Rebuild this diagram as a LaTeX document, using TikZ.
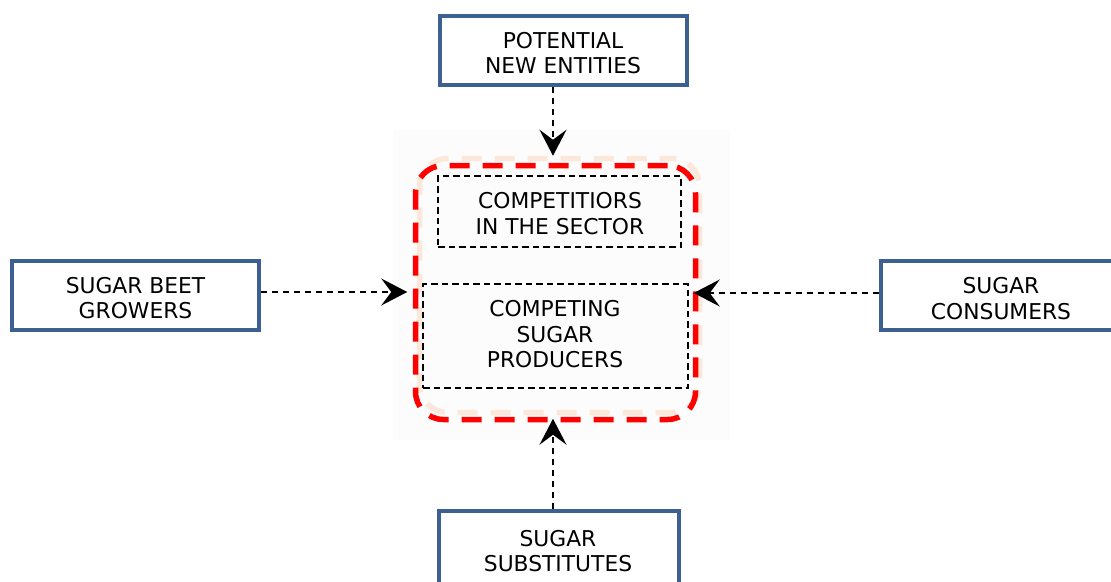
\documentclass[tikz,border=0pt]{standalone}
\usepackage{fontspec}
\setmainfont{DejaVu Sans}
\usetikzlibrary{arrows.meta}
\definecolor{boxblue}{RGB}{59,96,145}
\definecolor{framered}{RGB}{255,0,0}
\definecolor{framepeach}{RGB}{252,232,218}
\tikzset{
  labelfont/.style={font=\fontsize{21.8}{25.5}\selectfont},
  extbox/.style={draw=boxblue, line width=4pt, fill=white,
    inner sep=0pt, minimum width=247pt, minimum height=69pt},
  boxtext/.style={labelfont, align=center, inner sep=0pt},
  innerbox/.style={draw=black, line width=1.6pt, dash pattern=on 6.5pt off 4pt,
    inner sep=0pt},
  sectorframe/.style={line width=5.5pt, rounded corners=28pt,
    dash pattern=on 20pt off 13pt, inner sep=0pt,
    minimum width=280pt, minimum height=254pt},
  force/.style={draw=black, line width=1.8pt, dash pattern=on 6pt off 5pt,
    -{Stealth[length=26pt,width=27pt,inset=10pt,sep=0pt]}},
}
\begin{document}
\begin{tikzpicture}[x=1pt,y=-1pt]
\useasboundingbox (0,0) rectangle (1111,581);
\clip (0,0) rectangle (1111,581);
% light backdrop behind the sector
\node[fill=black!1, inner sep=0pt, minimum width=337pt, minimum height=310pt] (backdrop) at (561.5,285) {};
% faint offset copy of the frame, then the red frame
\node[sectorframe, draw=framepeach, dash phase=8pt] (shadow) at (559.5,285.5) {};
\node[sectorframe, draw=framered] (sector) at (555.5,292.5) {};
% boxes inside the sector
\node[innerbox, minimum width=243pt, minimum height=71pt] (rivals) at (559.5,211.5) {};
\node[boxtext] (rivals-text) at (560,213.5) {COMPETITIORS\\IN THE SECTOR};
\node[innerbox, minimum width=265pt, minimum height=104pt] (producers) at (555.5,336) {};
\node[boxtext] (producers-text) at (555,334.5) {COMPETING\\SUGAR\\PRODUCERS};
% outside forces
\node[extbox] (entrants) at (563.5,50.5) {};
\node[boxtext] (entrants-text) at (563,53.3) {POTENTIAL\\NEW ENTITIES};
\node[extbox] (growers) at (135.5,295.5) {};
\node[boxtext] (growers-text) at (135.5,298) {SUGAR BEET\\GROWERS};
\node[extbox, minimum width=240pt] (consumers) at (1001,295.5) {};
\node[boxtext] (consumers-text) at (1001,298.5) {SUGAR\\CONSUMERS};
\node[extbox, minimum width=240pt, minimum height=75pt] (substitutes) at (559,548.5) {};
\node[boxtext] (substitutes-text) at (558,551) {SUGAR\\SUBSTITUTES};
% arrows towards the sector
\coordinate (topin) at ([xshift=-10.5pt]entrants.south);
\draw[force, shorten >=7pt] (topin) -- (topin |- sector.north);
\coordinate (leftin) at ([yshift=3.5pt]growers.east);
\draw[force, shorten >=5.5pt] (leftin) -- (leftin -| sector.west);
\coordinate (rightin) at ([yshift=2.5pt]consumers.west);
\draw[force, shorten >=-4.5pt] (rightin) -- (rightin -| sector.east);
\coordinate (botin) at ([xshift=-6pt]substitutes.north);
\draw[force, shorten >=-3.5pt] (botin) -- (botin |- sector.south);
\end{tikzpicture}
\end{document}
